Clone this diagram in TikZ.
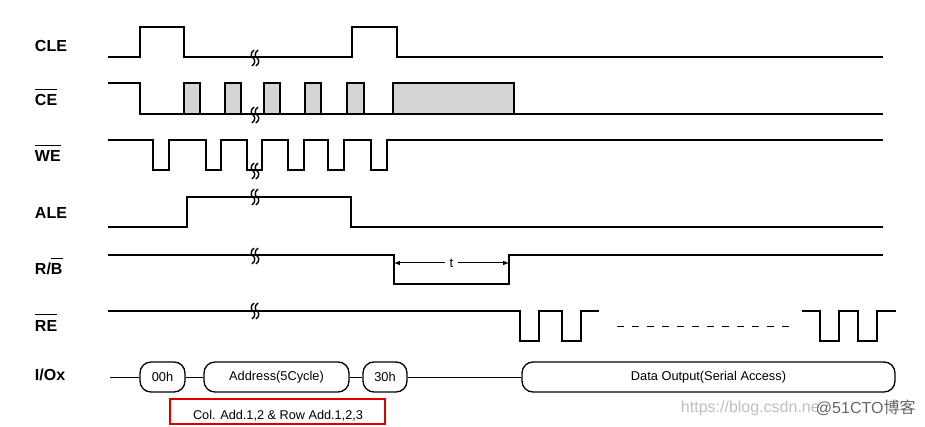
\documentclass[tikz,border=0pt]{standalone}
\usepackage{fontspec}
\setmainfont{Liberation Sans}
\newfontfamily\cjkfont{Noto Sans CJK SC}
\usetikzlibrary{calc}

\newcommand{\barsig}[1]{$\overline{\hbox{\rule{0pt}{15pt}#1}}$}

\begin{document}
\begin{tikzpicture}[x=1pt, y=-1pt, line width=1.3pt,
    signame/.style={anchor=base west, font=\fontsize{16}{18}\selectfont\bfseries},
    bubble/.style={draw, rounded corners=11pt, minimum height=30pt, inner sep=0pt,
                   font=\fontsize{12.8}{14}\selectfont},
    dontcare/.style={draw, fill=black!17},
    brk/.pic={
      \draw[line width=1.4pt] (-1,-8) .. controls (-5,-5) and (-4,-1) .. (-2,0)
                              .. controls (0,1) and (1,5) .. (-3,8);
      \draw[line width=1.4pt] (3,-8) .. controls (-1,-5) and (0,-1) .. (2,0)
                              .. controls (4,1) and (5,5) .. (1,8);
    }]
  \useasboundingbox (0,0) rectangle (925,427);

  % signal names
  \node[signame] (ncle) at (31,52) {CLE};
  \node[signame] (nce)  at (31,106) {\barsig{CE}};
  \node[signame] (nwe)  at (31,162) {\barsig{WE}};
  \node[signame] (nale) at (31,219) {ALE};
  \node[signame] (nrb)  at (31,275) {R/\barsig{B}};
  \node[signame] (nre)  at (31,331) {\barsig{RE}};
  \node[signame] (nio)  at (31,380) {I/Ox};

  % CLE
  \draw (108,57) -- (140,57) -- (140,27) -- (184,27) -- (184,57) -- (352,57)
        -- (352,27) -- (397,27) -- (397,57) -- (883,57);

  % CE
  \foreach \xa/\xb in {184/200, 225/241, 264/280, 305/321, 347/364, 393/514}
    \draw[dontcare] (\xa,114) rectangle (\xb,83);
  \draw (108,83) -- (140,83) -- (140,114) -- (883,114);

  % WE
  \draw (108,140) -- (153,140) -- (153,170) -- (169,170) -- (169,140)
        -- (206,140) -- (206,170) -- (221,170) -- (221,140)
        -- (247,140) -- (247,170) -- (262,170) -- (262,140)
        -- (288,140) -- (288,170) -- (304,170) -- (304,140)
        -- (328,140) -- (328,170) -- (344,170) -- (344,140)
        -- (371,140) -- (371,170) -- (387,170) -- (387,140) -- (883,140);

  % ALE
  \draw (108,227) -- (187,227) -- (187,197) -- (351,197) -- (351,227) -- (883,227);

  % R/B
  \draw (108,255) -- (394,255) -- (394,284) -- (509,284) -- (509,255) -- (883,255);
  \coordinate (tl) at (394,263);
  \coordinate (tr) at (509,263);
  \draw[latex-latex, line width=1pt] (tl) -- node[fill=white, inner sep=5pt,
        font=\fontsize{13}{14}\selectfont] (tlab) {t} (tr);

  % RE
  \draw (108,311) -- (520,311) -- (520,341) -- (539,341) -- (539,311)
        -- (562,311) -- (562,341) -- (581,341) -- (581,311) -- (599,311);
  \draw[dashed, dash pattern=on 7pt off 8pt, line width=1pt] (617,326) -- (794,326);
  \draw (802,311) -- (820,311) -- (820,341) -- (839,341) -- (839,311)
        -- (858,311) -- (858,341) -- (877,341) -- (877,311) -- (896,311);

  % breaks
  \foreach \yb in {58,115,171,197,256,311}
    \pic at (255,\yb) {brk};

  % I/Ox
  \node[bubble, minimum width=45pt]  (b00)   at (162.5,377) {00h};
  \node[bubble, minimum width=145pt] (badr)  at (276.5,377) {Address(5Cycle)};
  \node[bubble, minimum width=44pt]  (b30)   at (385,377) {30h};
  \node[bubble, minimum width=373pt] (bdata) at (708.5,377) {Data Output(Serial Access)};
  \coordinate (iostart) at (110,377);
  \draw[line width=1pt] (iostart) -- (b00) (b00) -- (badr) (badr) -- (b30) (b30) -- (bdata);

  % address note
  \draw[red!85!black, line width=1.6pt] (170,399) rectangle (385,424);
  \node[font=\fontsize{12.7}{14}\selectfont] (note) at (278,416) {Col. Add.1,2 \& Row Add.1,2,3};

  % watermark
  \node[anchor=west, text=black!25, font=\fontsize{16}{18}\selectfont] (wm1) at (677,408) {https://blog.csdn.ne};
  \node[anchor=west, text=black!60, font=\fontsize{16}{18}\selectfont] (wm2) at (812,408) {@51CTO\cjkfont 博客};
\end{tikzpicture}
\end{document}
